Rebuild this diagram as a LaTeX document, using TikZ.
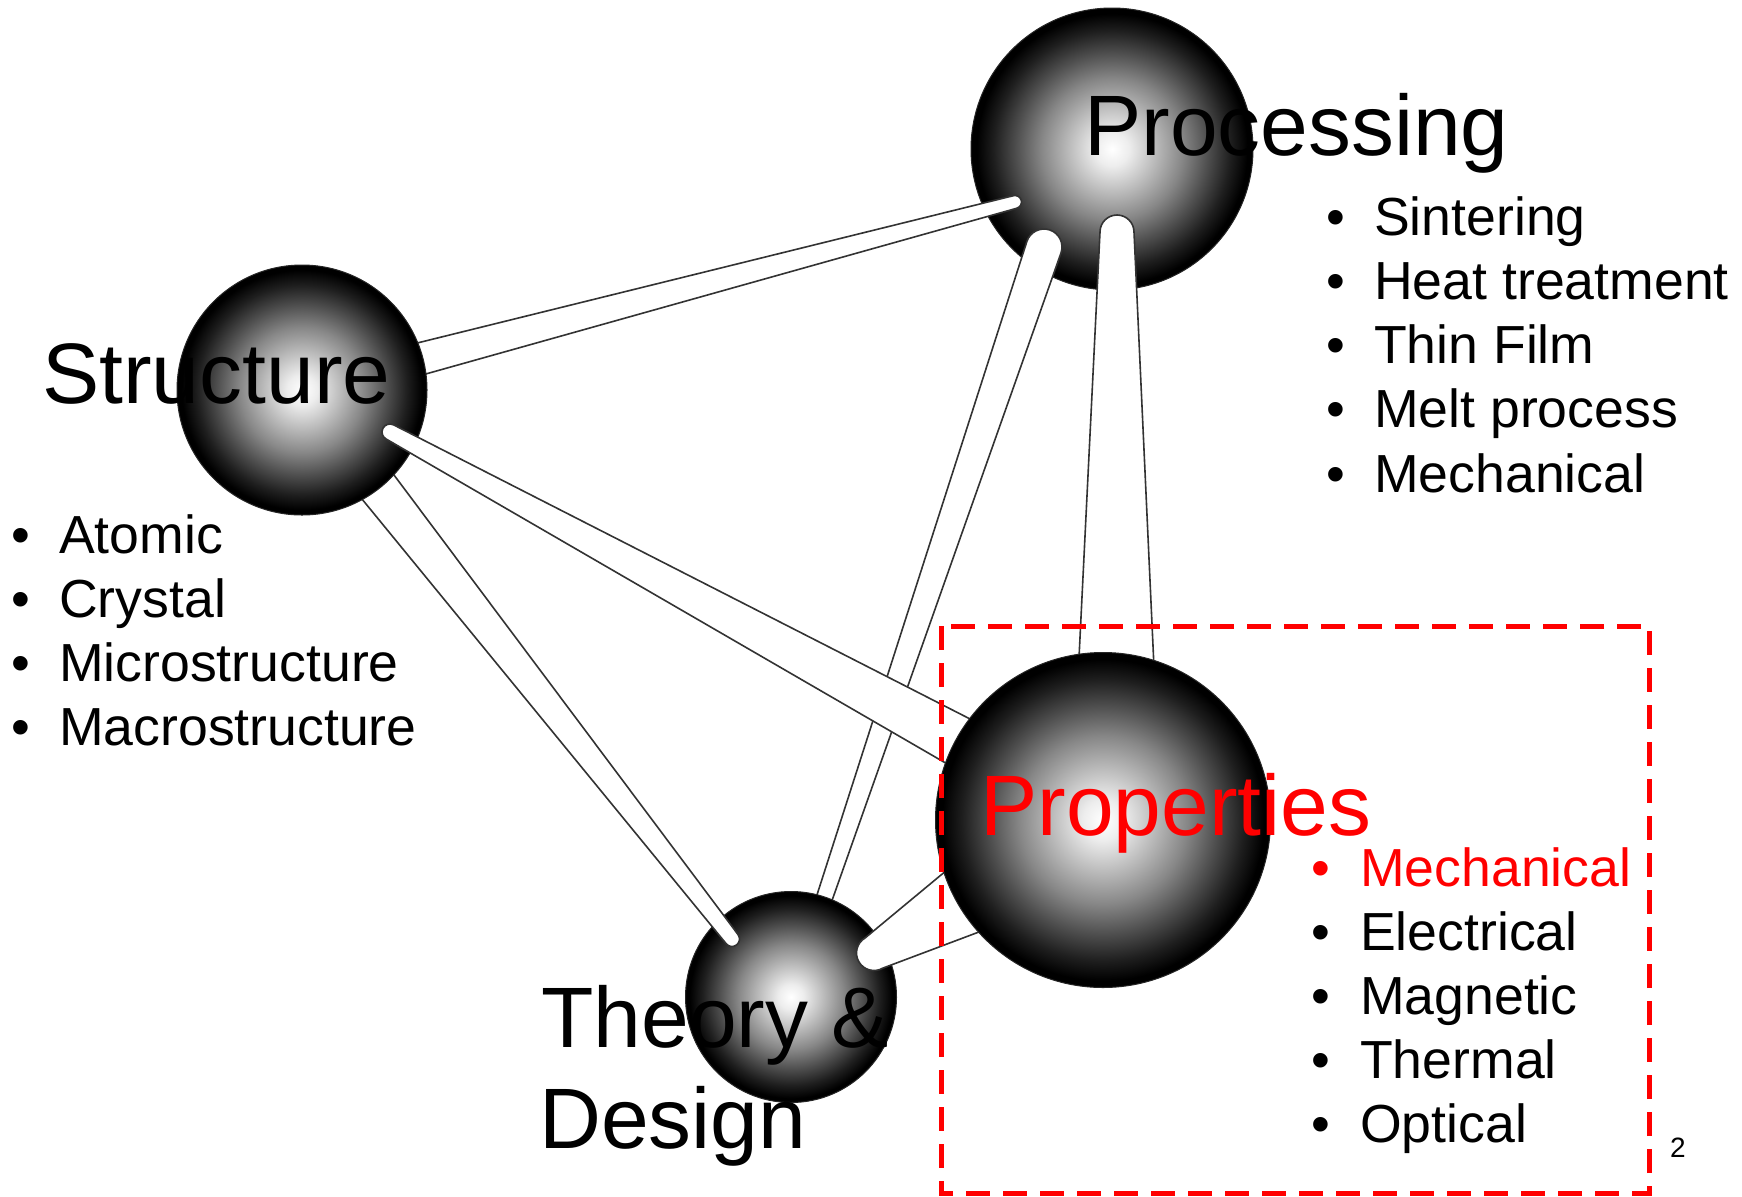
\documentclass[tikz,border=0pt]{standalone}
\usepackage{fontspec}
\setmainfont{Liberation Sans}
\usetikzlibrary{calc}
\pgfdeclareradialshading{sph}{\pgfpoint{0bp}{0bp}}{color(0bp)=(white); color(3bp)=(white!93!black); color(8bp)=(white!72!black); color(12.5bp)=(white!53!black); color(17bp)=(white!31!black); color(21bp)=(white!12!black); color(24bp)=(black); color(50bp)=(black)}
\definecolor{pred}{RGB}{255,0,0}
\tikzset{
  ball/.style={circle, draw=black!85, line width=1bp, shading=sph, inner sep=0pt, minimum size=#1},
  rodline/.style={fill=white, draw=black!80, line width=1.6bp},
  big/.style={anchor=base west, inner sep=0pt, font=\fontsize{85.8bp}{101bp}\selectfont},
  item/.style={anchor=base west, inner sep=0pt, font=\fontsize{53.6bp}{64bp}\selectfont},
  redbox/.style={draw=pred, line width=5bp, dash pattern=on 24bp off 13bp},
}
% #1 cap end, #2 hidden end, #3 half width at cap, #4 half width at hidden end
\newcommand\rod[4]{\path[rodline] let \p1=($(#2)-(#1)$), \n1={atan2(\y1,\x1)} in
  ($(#1)+(\n1+90:#3bp)$) -- ($(#2)+(\n1+90:#4bp)$) -- ($(#2)+(\n1-90:#4bp)$) -- ($(#1)+(\n1-90:#3bp)$)
  arc[start angle=\n1-90, end angle=\n1-270, radius=#3bp] -- cycle;}
\begin{document}
\begin{tikzpicture}[x=1bp, y=-1bp]
\useasboundingbox (0,0) rectangle (1742,1196);
% centres
\coordinate (P) at (1112,149);
\coordinate (S) at (302,390);
\coordinate (R) at (1103,820);
\coordinate (T) at (791,997);
% rod ends
\coordinate (capSP) at (1015,202);
\coordinate (capPT) at (1044,247);
\coordinate (capPR) at (1117,232);
\coordinate (farPR) at (1116,820);
\coordinate (capST) at (732,939);
\coordinate (capSR) at (390,432);
\coordinate (capTR) at (874,953);

\node[ball=282bp] (proc) at (P) {};
\rod{capPT}{T}{18}{6.5}
\node[ball=211bp] (theory) at (T) {};
\rod{capST}{S}{7.5}{22.7}
\rod{capSP}{S}{6.5}{18}
\node[ball=250bp] (struct) at (S) {};
\rod{capSR}{R}{8}{29.6}
\rod{capTR}{R}{17.5}{62}
\rod{capPR}{farPR}{17}{45}
\node[ball=335bp] (prop) at (R) {};

% dashed frame
\draw[redbox] (941,626) rectangle (1649,1193);

% labels
\node[big] (lproc) at (1084,155) {Processing};
\node[big] (lstruct) at (42,403) {Structure};
\node[big, text=pred] (lprop) at (980,835) {Properties};
\node[big] (ltheory) at (541,1047) {Theory \&};
\node[big] (ldesign) at (539,1148) {Design};

% lists
\foreach \t [count=\i from 0] in {Sintering, Heat treatment, Thin Film, Melt process, Mechanical}
  \node[item] (pl\i) at (1326,{235+64.25*\i}) {\makebox[48bp][l]{•}\t};
\foreach \t [count=\i from 0] in {Atomic, Crystal, Microstructure, Macrostructure}
  \node[item] (sl\i) at (11,{553+64*\i}) {\makebox[48bp][l]{•}\t};
\node[item, text=pred] (rl0) at (1311,886) {\makebox[49bp][l]{•}Mechanical};
\foreach \t [count=\i from 1] in {Electrical, Magnetic, Thermal, Optical}
  \node[item] (rl\i) at (1311,{886+64*\i}) {\makebox[49bp][l]{•}\t};

\node[anchor=base west, inner sep=0pt, font=\fontsize{28bp}{32bp}\selectfont] (pnum) at (1670,1157) {2};
\end{tikzpicture}
\end{document}
